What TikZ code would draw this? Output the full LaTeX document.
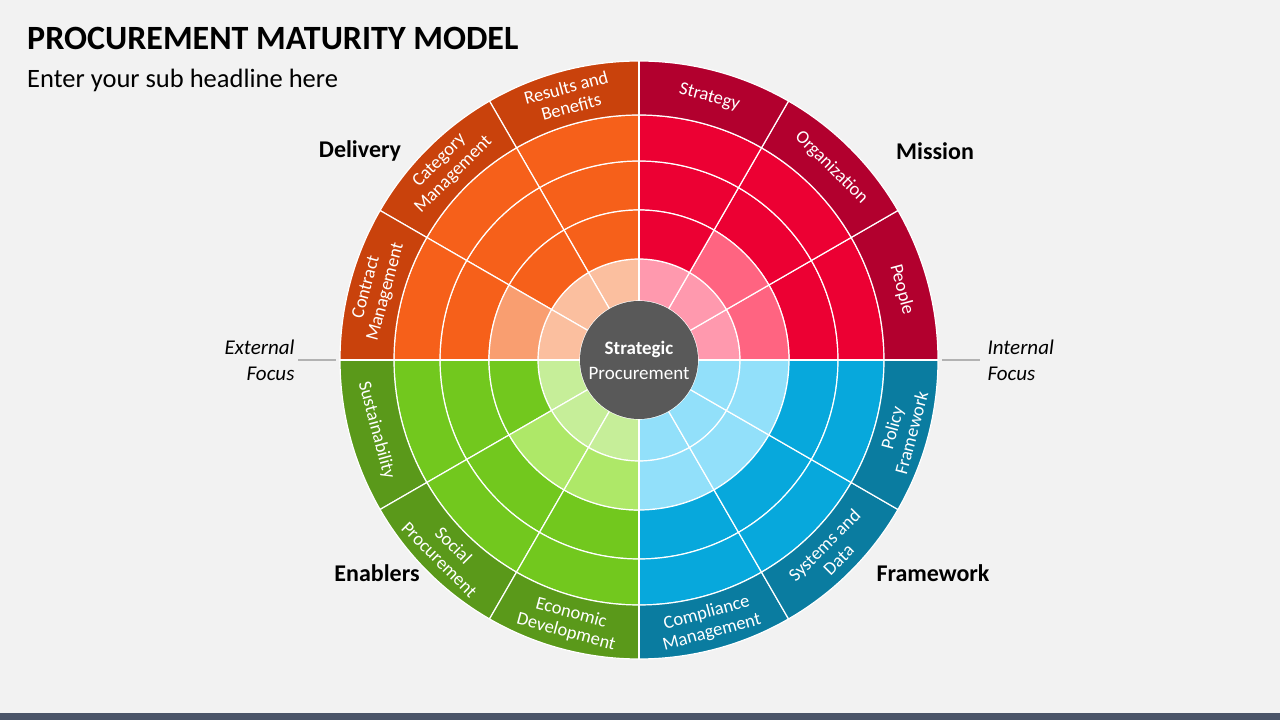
\documentclass[tikz,border=0pt]{standalone}
\usepackage{fontspec}
\setmainfont{Carlito}
\definecolor{bg}{HTML}{F2F2F2}
\definecolor{orF}{HTML}{F6601A}\definecolor{orD}{HTML}{C9420C}\definecolor{orM}{HTML}{F99E70}\definecolor{orL}{HTML}{FBBF9F}
\definecolor{rdF}{HTML}{EC0033}\definecolor{rdD}{HTML}{B2002E}\definecolor{rdM}{HTML}{FF6481}\definecolor{rdL}{HTML}{FF99AE}
\definecolor{grF}{HTML}{72C81E}\definecolor{grD}{HTML}{5A991A}\definecolor{grM}{HTML}{AEE868}\definecolor{grL}{HTML}{C6EE99}
\definecolor{blF}{HTML}{07A8DC}\definecolor{blD}{HTML}{0A7CA0}\definecolor{blL}{HTML}{92E0FA}
\definecolor{hub}{HTML}{595959}\definecolor{bar}{HTML}{4A5468}
\newcommand{\wedgeseg}[5]{\fill[#5,draw=white,line width=1.2pt] (#1:#3) arc[start angle=#1,end angle=#2,radius=#3] -- (#2:#4) arc[start angle=#2,end angle=#1,radius=#4] -- cycle;}
\tikzset{lbl/.style={text=white,font=\fontsize{18.5}{20}\selectfont,align=center,inner sep=0pt},
 quad/.style={font=\bfseries\fontsize{24}{26}\selectfont},
 focus/.style={font=\itshape\fontsize{21}{26}\selectfont}}
\begin{document}
\begin{tikzpicture}[x=1pt,y=1pt]
\fill[bg] (0,0) rectangle (1280,720);
\useasboundingbox (0,0) rectangle (1280,720);
\fill[bar] (0,0) rectangle (1280,7);
\node[anchor=west,inner sep=0pt,font=\bfseries\fontsize{34}{36}\selectfont] (title) at (27,682) {PROCUREMENT MATURITY MODEL};
\node[anchor=west,inner sep=0pt,font=\fontsize{26.5}{28}\selectfont] (sub) at (27,640) {Enter your sub headline here};
\begin{scope}[shift={(639,360)}]
\foreach \a in {0,30,60}{\pgfmathsetmacro\b{\a+30}
 \wedgeseg{\a}{\b}{59}{101}{rdL}\wedgeseg{\a}{\b}{150}{199}{rdF}\wedgeseg{\a}{\b}{199}{245}{rdF}\wedgeseg{\a}{\b}{245}{299}{rdD}}
\wedgeseg{0}{30}{101}{150}{rdM}\wedgeseg{30}{60}{101}{150}{rdM}\wedgeseg{60}{90}{101}{150}{rdF}
\foreach \a in {90,120,150}{\pgfmathsetmacro\b{\a+30}
 \wedgeseg{\a}{\b}{59}{101}{orL}\wedgeseg{\a}{\b}{150}{199}{orF}\wedgeseg{\a}{\b}{199}{245}{orF}\wedgeseg{\a}{\b}{245}{299}{orD}}
\wedgeseg{90}{120}{101}{150}{orF}\wedgeseg{120}{150}{101}{150}{orF}\wedgeseg{150}{180}{101}{150}{orM}
\foreach \a in {180,210,240}{\pgfmathsetmacro\b{\a+30}
 \wedgeseg{\a}{\b}{59}{101}{grL}\wedgeseg{\a}{\b}{150}{199}{grF}\wedgeseg{\a}{\b}{199}{245}{grF}\wedgeseg{\a}{\b}{245}{299}{grD}}
\wedgeseg{180}{210}{101}{150}{grF}\wedgeseg{210}{240}{101}{150}{grM}\wedgeseg{240}{270}{101}{150}{grM}
\foreach \a in {270,300,330}{\pgfmathsetmacro\b{\a+30}
 \wedgeseg{\a}{\b}{59}{101}{blL}\wedgeseg{\a}{\b}{101}{150}{blL}\wedgeseg{\a}{\b}{150}{199}{blF}\wedgeseg{\a}{\b}{199}{245}{blF}\wedgeseg{\a}{\b}{245}{299}{blD}}
\draw[white,line width=1.2pt] (0,-299) -- (0,299) (-299,0) -- (299,0);
\fill[hub] (0,0) circle (59);
\node[text=white,align=center,font=\fontsize{19}{25}\selectfont] (hubtxt) at (0,0) {\textbf{Strategic}\\Procurement};
\node[lbl,rotate=-15] (l1) at (75:272) {Strategy};
\node[lbl,rotate=-45] (l2) at (45:272) {Organization};
\node[lbl,rotate=-75] (l3) at (15:272) {People};
\node[lbl,rotate=15] (l4) at (105:272) {Results and\\Benefits};
\node[lbl,rotate=45] (l5) at (135:272) {Category\\Management};
\node[lbl,rotate=75] (l6) at (165:272) {Contract\\Management};
\node[lbl,rotate=-75] (l7) at (195:272) {Sustainability};
\node[lbl,rotate=-45] (l8) at (225:272) {Social\\Procurement};
\node[lbl,rotate=-15] (l9) at (255:272) {Economic\\Development};
\node[lbl,rotate=15] (l10) at (285:272) {Compliance\\Management};
\node[lbl,rotate=45] (l11) at (315:272) {Systems and\\Data};
\node[lbl,rotate=75] (l12) at (345:272) {Policy\\Framework};
\end{scope}
\node[quad] (del) at (360,569) {Delivery};
\node[quad] (mis) at (935,569) {Mission};
\node[quad] (ena) at (377,147) {Enablers};
\node[quad] (fra) at (933,147) {Framework};
\coordinate (e1) at (298,360); \coordinate (e2) at (336,360);
\coordinate (i1) at (942,360); \coordinate (i2) at (980,360);
\draw[gray!60,line width=1.5pt] (e1) -- (e2) (i1) -- (i2);
\node[focus,anchor=east,align=right] (ext) at (298,360) {External\\Focus};
\node[focus,anchor=west,align=left] (int) at (984,360) {Internal\\Focus};
\end{tikzpicture}
\end{document}
